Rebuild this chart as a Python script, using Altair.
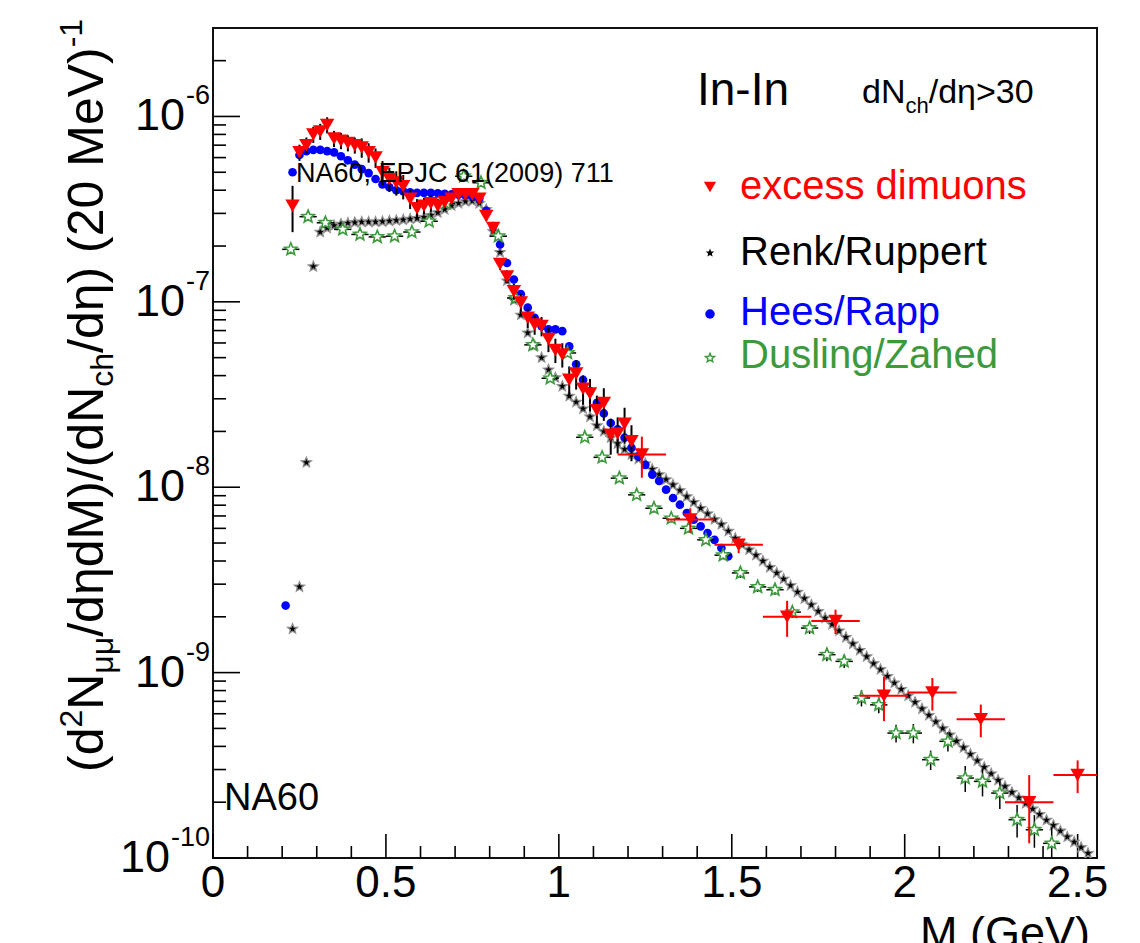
import altair as alt
import pandas as pd

# ---------------- data ----------------
excess_M = [0.23, 0.25, 0.27, 0.29, 0.31, 0.33, 0.35, 0.37, 0.39, 0.41,
            0.43, 0.45, 0.47, 0.49, 0.51, 0.53, 0.55, 0.57, 0.59, 0.61,
            0.63, 0.65, 0.67, 0.69, 0.71, 0.73, 0.75, 0.77, 0.79, 0.81,
            0.83, 0.85, 0.87, 0.89, 0.91, 0.93, 0.95, 0.97, 0.99, 1.01,
            1.03, 1.05, 1.07, 1.09, 1.11, 1.13, 1.15, 1.17, 1.19, 1.21]
excess_y = [3.3e-7, 6.4e-7, 7.0e-7, 8.0e-7, 8.3e-7, 9.0e-7, 7.6e-7, 7.4e-7, 7.2e-7, 7.0e-7,
            6.8e-7, 6.4e-7, 6.0e-7, 5.0e-7, 4.6e-7, 4.4e-7, 4.2e-7, 3.6e-7, 3.2e-7, 3.3e-7,
            3.4e-7, 3.3e-7, 3.45e-7, 3.6e-7, 3.8e-7, 3.8e-7, 3.8e-7, 3.6e-7, 2.9e-7, 2.5e-7,
            1.6e-7, 1.37e-7, 1.14e-7, 9.9e-8, 8.2e-8, 7.55e-8, 7.4e-8, 6.3e-8, 5.5e-8, 5.2e-8,
            3.8e-8, 4.1e-8, 3.4e-8, 3.2e-8, 2.6e-8, 2.85e-8, 1.92e-8, 1.95e-8, 2.2e-8, 1.77e-8]
excess_rel_err = [0.28, 0.10, 0.10, 0.10, 0.10, 0.10, 0.10, 0.10, 0.10, 0.10,
                  0.12, 0.12, 0.12, 0.15, 0.15, 0.15, 0.15, 0.12, 0.12, 0.10,
                  0.10, 0.09, 0.08, 0.07, 0.06, 0.06, 0.06, 0.06, 0.06, 0.06,
                  0.07, 0.08, 0.10, 0.12, 0.12, 0.12, 0.12, 0.15, 0.15, 0.15,
                  0.18, 0.18, 0.18, 0.20, 0.20, 0.20, 0.22, 0.22, 0.22, 0.22]

excess_wide_M = [1.24, 1.38, 1.52, 1.66, 1.80, 1.94, 2.08, 2.22, 2.36, 2.50]
excess_wide_y = [1.5e-8, 6.7e-9, 4.9e-9, 2.0e-9, 1.9e-9, 7.5e-10, 7.8e-10, 5.6e-10, 2.0e-10, 2.8e-10]
excess_wide_rel_err = [0.25, 0.15, 0.10, 0.22, 0.15, 0.27, 0.20, 0.20, 0.40, 0.20]
excess_wide_half_bin = [0.07, 0.07, 0.07, 0.07, 0.07, 0.07, 0.07, 0.07, 0.07, 0.07]

renk_M = [0.23, 0.25, 0.27, 0.29, 0.31, 0.33, 0.35, 0.37, 0.39, 0.41,
          0.43, 0.45, 0.47, 0.49, 0.51, 0.53, 0.55, 0.57, 0.59, 0.61,
          0.63, 0.65, 0.67, 0.69, 0.71, 0.73, 0.75, 0.77, 0.79, 0.81,
          0.83, 0.85, 0.87, 0.89, 0.91, 0.93, 0.95, 0.97, 0.99, 1.01,
          1.03, 1.05, 1.07, 1.09, 1.11, 1.13, 1.15, 1.17, 1.19, 1.21,
          1.23, 1.25, 1.27, 1.29, 1.31, 1.33, 1.35, 1.37, 1.39, 1.41,
          1.43, 1.45, 1.47, 1.49, 1.51, 1.53, 1.55, 1.57, 1.59, 1.61,
          1.63, 1.65, 1.67, 1.69, 1.71, 1.73, 1.75, 1.77, 1.79, 1.81,
          1.83, 1.85, 1.87, 1.89, 1.91, 1.93, 1.95, 1.97, 1.99, 2.01,
          2.03, 2.05, 2.07, 2.09, 2.11, 2.13, 2.15, 2.17, 2.19, 2.21,
          2.23, 2.25, 2.27, 2.29, 2.31, 2.33, 2.35, 2.37, 2.39, 2.41,
          2.43, 2.45, 2.47, 2.49, 2.51, 2.53]
renk_y = [1.72e-9, 2.9e-9, 1.36e-8, 1.55e-7, 2.38e-7, 2.5e-7, 2.58e-7, 2.63e-7, 2.66e-7, 2.68e-7,
          2.7e-7, 2.7e-7, 2.7e-7, 2.71e-7, 2.73e-7, 2.75e-7, 2.77e-7, 2.8e-7, 2.82e-7, 2.86e-7,
          2.93e-7, 3.03e-7, 3.15e-7, 3.3e-7, 3.4e-7, 3.48e-7, 3.5e-7, 3.4e-7, 3.15e-7, 2.4e-7,
          1.85e-7, 1.3e-7, 1.02e-7, 8.5e-8, 6.8e-8, 5.8e-8, 5.0e-8, 4.3e-8, 3.9e-8, 3.5e-8,
          3.1e-8, 2.88e-8, 2.65e-8, 2.4e-8, 2.15e-8, 2.0e-8, 1.85e-8, 1.72e-8, 1.6e-8, 1.5e-8,
          1.42e-8, 1.34e-8, 1.25e-8, 1.17e-8, 1.1e-8, 1.03e-8, 9.6e-9, 8.9e-9, 8.3e-9, 7.7e-9,
          7.2e-9, 6.7e-9, 6.3e-9, 5.8e-9, 5.3e-9, 4.9e-9, 4.6e-9, 4.3e-9, 4.0e-9, 3.7e-9,
          3.45e-9, 3.2e-9, 2.95e-9, 2.72e-9, 2.51e-9, 2.32e-9, 2.14e-9, 1.97e-9, 1.82e-9, 1.68e-9,
          1.55e-9, 1.43e-9, 1.32e-9, 1.22e-9, 1.12e-9, 1.04e-9, 9.55e-10, 8.8e-10, 8.13e-10, 7.5e-10,
          6.92e-10, 6.38e-10, 5.89e-10, 5.43e-10, 5.0e-10, 4.62e-10, 4.27e-10, 3.94e-10, 3.63e-10, 3.35e-10,
          3.09e-10, 2.85e-10, 2.63e-10, 2.43e-10, 2.26e-10, 2.11e-10, 1.97e-10, 1.84e-10, 1.72e-10, 1.6e-10,
          1.5e-10, 1.4e-10, 1.3e-10, 1.22e-10, 1.14e-10, 1.06e-10]

rapp_M = [0.21, 0.23, 0.25, 0.27, 0.29, 0.31, 0.33, 0.35, 0.37, 0.39,
          0.41, 0.43, 0.45, 0.47, 0.49, 0.51, 0.53, 0.55, 0.57, 0.59,
          0.61, 0.63, 0.65, 0.67, 0.69, 0.71, 0.73, 0.75, 0.77, 0.79,
          0.81, 0.83, 0.85, 0.87, 0.89, 0.91, 0.93, 0.95, 0.97, 0.99,
          1.01, 1.03, 1.05, 1.07, 1.09, 1.11, 1.13, 1.15, 1.17, 1.19,
          1.21, 1.23, 1.25, 1.27, 1.29, 1.31, 1.33, 1.35, 1.37, 1.39,
          1.41, 1.43, 1.45, 1.47, 1.49]
rapp_y = [2.3e-9, 5.0e-7, 6.2e-7, 6.5e-7, 6.6e-7, 6.6e-7, 6.5e-7, 6.4e-7, 6.1e-7, 5.8e-7,
          5.5e-7, 5.2e-7, 4.95e-7, 4.6e-7, 4.3e-7, 4.15e-7, 4.0e-7, 3.95e-7, 3.9e-7, 3.87e-7,
          3.87e-7, 3.87e-7, 3.85e-7, 3.83e-7, 3.8e-7, 3.78e-7, 3.75e-7, 3.7e-7, 3.6e-7, 3.1e-7,
          2.56e-7, 2.04e-7, 1.62e-7, 1.32e-7, 1.1e-7, 9.3e-8, 8.2e-8, 7.4e-8, 7.1e-8, 7.1e-8,
          6.95e-8, 5.75e-8, 4.6e-8, 3.8e-8, 3.3e-8, 2.85e-8, 2.5e-8, 2.22e-8, 2.05e-8, 1.85e-8,
          1.63e-8, 1.47e-8, 1.32e-8, 1.17e-8, 1.08e-8, 9.7e-9, 8.75e-9, 8.05e-9, 7.26e-9, 6.68e-9,
          6.15e-9, 5.66e-9, 5.2e-9, 4.7e-9, 4.24e-9]

dusling_M = [0.225, 0.275, 0.325, 0.375, 0.425, 0.475, 0.525, 0.575, 0.625, 0.675,
             0.725, 0.775, 0.825, 0.875, 0.925, 0.975, 1.025, 1.075, 1.125, 1.175,
             1.225, 1.275, 1.325, 1.375, 1.425, 1.475, 1.525, 1.575, 1.625, 1.675,
             1.725, 1.775, 1.825, 1.875, 1.925, 1.975, 2.025, 2.075, 2.125, 2.175,
             2.225, 2.275, 2.325, 2.375, 2.425]
dusling_y = [1.92e-7, 2.88e-7, 2.67e-7, 2.46e-7, 2.31e-7, 2.24e-7, 2.26e-7, 2.38e-7, 2.72e-7, 3.4e-7,
             4.76e-7, 4.39e-7, 2.26e-7, 1.05e-7, 5.86e-8, 3.87e-8, 5.3e-8, 1.86e-8, 1.45e-8, 1.12e-8,
             9.1e-9, 7.7e-9, 6.8e-9, 6.0e-9, 5.2e-9, 4.3e-9, 3.45e-9, 2.9e-9, 2.8e-9, 2.12e-9,
             1.74e-9, 1.25e-9, 1.15e-9, 7.3e-10, 6.7e-10, 4.72e-10, 4.72e-10, 3.39e-10, 4.26e-10, 2.7e-10,
             2.59e-10, 2.24e-10, 1.61e-10, 1.42e-10, 1.2e-10]
dusling_rel_err = [0.02, 0.02, 0.02, 0.02, 0.02, 0.02, 0.02, 0.02, 0.02, 0.02,
                   0.02, 0.02, 0.03, 0.03, 0.03, 0.04, 0.04, 0.04, 0.04, 0.04,
                   0.05, 0.05, 0.05, 0.05, 0.05, 0.05, 0.06, 0.06, 0.06, 0.07,
                   0.07, 0.08, 0.08, 0.10, 0.10, 0.11, 0.12, 0.12, 0.12, 0.16,
                   0.17, 0.18, 0.20, 0.20, 0.22]
dusling_half_bin = 0.025

x_major_ticks = [0, 0.5, 1.0, 1.5, 2.0, 2.5]
x_tick_labels = ["0", "0.5", "1", "1.5", "2", "2.5"]
x_minor_ticks = [0.1, 0.2, 0.3, 0.4, 0.6, 0.7, 0.8, 0.9, 1.1, 1.2, 1.3, 1.4,
                 1.6, 1.7, 1.8, 1.9, 2.1, 2.2, 2.3, 2.4]
y_decades = [-10, -9, -8, -7, -6]
y_minor_mult = [2, 3, 4, 5, 6, 7, 8, 9]

# ---------------- layout / style ----------------
FONT = "Liberation Sans"
PL, PT = 213, 28          # plot origin on the page
W, H = 884, 830           # plot area
X_DOMAIN = [0, 2.556]
Y_DOMAIN = [1e-10, 3.0e-6]
RED, BLUE, GREEN = "#ff0000", "#0000ff", "#3c9a3c"
STAR = ("M0,-1L0.26,-0.36L0.951,-0.309L0.42,0.137L0.588,0.809L0,0.44L-0.588,0.809"
        "L-0.42,0.137L-0.951,-0.309L-0.26,-0.36Z")

xs = alt.Scale(domain=X_DOMAIN, nice=False, zero=False)
ys = alt.Scale(type="log", domain=Y_DOMAIN, nice=False)

AW = {'(': .333, ')': .333, 'd': .556, 'N': .722, '/': .278, 'M': .833, 'c': .5, 'h': .556,
      ' ': .278, 'e': .556, 'V': .667, '-': .333, 'μ': .576, 'η': .556, '>': .584}


def tw(s, fs):
    return sum(AW.get(ch, .556) for ch in s) * fs


def text_at(s, px, py, size, color="black", align="left", baseline="alphabetic", angle=0, font=FONT):
    return alt.Chart(pd.DataFrame({"k": [0]})).mark_text(
        text=s, fontSize=size, font=font, color=color, align=align,
        baseline=baseline, angle=angle
    ).encode(x=alt.value(px - PL), y=alt.value(py - PT))


# ---------------- data frames ----------------
ex = pd.DataFrame({"M": excess_M, "y": excess_y})
ex["lo"] = [a * (1 - e) for a, e in zip(excess_y, excess_rel_err)]
ex["hi"] = [a * (1 + e) for a, e in zip(excess_y, excess_rel_err)]

exw = pd.DataFrame({"M": excess_wide_M, "y": excess_wide_y})
exw["lo"] = [a * (1 - e) for a, e in zip(excess_wide_y, excess_wide_rel_err)]
exw["hi"] = [a * (1 + e) for a, e in zip(excess_wide_y, excess_wide_rel_err)]
exw["x0"] = [m - h for m, h in zip(excess_wide_M, excess_wide_half_bin)]
exw["x1"] = [min(m + h, X_DOMAIN[1]) for m, h in zip(excess_wide_M, excess_wide_half_bin)]

rk = pd.DataFrame({"M": renk_M, "y": renk_y})
rp = pd.DataFrame({"M": rapp_M, "y": rapp_y})

dz = pd.DataFrame({"M": dusling_M, "y": dusling_y})
dz["lo"] = [a * (1 - e) for a, e in zip(dusling_y, dusling_rel_err)]
dz["hi"] = [a * (1 + e) for a, e in zip(dusling_y, dusling_rel_err)]
dz["x0"] = [m - dusling_half_bin for m in dusling_M]
dz["x1"] = [m + dusling_half_bin for m in dusling_M]

X = lambda f: alt.X(f, type="quantitative", scale=xs, axis=None)
Y = lambda f: alt.Y(f, type="quantitative", scale=ys, axis=None)

# ---------------- data layers ----------------
renk = alt.Chart(rk).mark_point(shape=STAR, filled=True, fill="black", stroke="#909090",
                                strokeWidth=1.3, size=110, opacity=1, clip=True).encode(
    x=X("M"), y=Y("y"))

rapp = alt.Chart(rp).mark_circle(color=BLUE, size=75, opacity=1, clip=True).encode(
    x=X("M"), y=Y("y"))

dz_v = alt.Chart(dz).mark_rule(color="black", strokeWidth=1.5, clip=True).encode(
    x=X("M"), y=Y("lo"), y2="hi")
dz_h = alt.Chart(dz).mark_rule(color="black", strokeWidth=1.5, clip=True).encode(
    x=X("x0"), x2="x1", y=Y("y"))
dusl = alt.Chart(dz).mark_point(shape=STAR, filled=True, fill="white", stroke=GREEN,
                                strokeWidth=1.6, size=170, opacity=1, clip=True).encode(
    x=X("M"), y=Y("y"))

ex_v = alt.Chart(ex).mark_rule(color="black", strokeWidth=2, clip=True).encode(
    x=X("M"), y=Y("lo"), y2="hi")
exw_v = alt.Chart(exw).mark_rule(color=RED, strokeWidth=2, clip=True).encode(
    x=X("M"), y=Y("lo"), y2="hi")
exw_h = alt.Chart(exw).mark_rule(color=RED, strokeWidth=2, clip=True).encode(
    x=X("x0"), x2="x1", y=Y("y"))

tri_df = pd.concat([ex[["M", "y"]], exw[["M", "y"]]], ignore_index=True)
excess = alt.Chart(tri_df).mark_point(shape="triangle-down", filled=True, color=RED,
                                       size=210, opacity=1, clip=True).encode(
    x=X("M"), y=Y("y"))

# ---------------- custom inward ticks and tick labels ----------------
xmaj = alt.Chart(pd.DataFrame({"v": x_major_ticks})).mark_rule(color="black", strokeWidth=1.6).encode(
    x=X("v"), y=alt.value(H), y2=alt.value(H - 24))
xmin = alt.Chart(pd.DataFrame({"v": x_minor_ticks})).mark_rule(color="black", strokeWidth=1.6).encode(
    x=X("v"), y=alt.value(H), y2=alt.value(H - 12))
xlab = alt.Chart(pd.DataFrame({"v": x_major_ticks, "t": x_tick_labels})).mark_text(
    font=FONT, fontSize=44, align="center", baseline="top", color="black").encode(
    x=X("v"), y=alt.value(H + 4), text="t:N")

ymaj_vals = [10.0 ** e for e in y_decades]
ymin_vals = [m * 10.0 ** e for e in y_decades for m in y_minor_mult if m * 10.0 ** e < Y_DOMAIN[1]]
ymaj = alt.Chart(pd.DataFrame({"v": ymaj_vals})).mark_rule(color="black", strokeWidth=1.6).encode(
    y=Y("v"), x=alt.value(0), x2=alt.value(27))
ymin = alt.Chart(pd.DataFrame({"v": ymin_vals})).mark_rule(color="black", strokeWidth=1.6).encode(
    y=Y("v"), x=alt.value(0), x2=alt.value(13))

BASE_FS, EXP_FS, GAP = 45, 27, 3
ylab = pd.DataFrame({"v": ymaj_vals, "e": [str(e) for e in y_decades]})
ylab["bx"] = [-(GAP + tw(s, EXP_FS) + 1) for s in ylab["e"]]
ylab["b"] = ["10"] * len(ylab)
ybase = alt.Chart(ylab).mark_text(font=FONT, fontSize=BASE_FS, align="right", baseline="middle",
                                  color="black").encode(
    x=alt.X("bx:Q", scale=None), y=Y("v"), text="b:N")
yexp = alt.Chart(ylab).mark_text(font=FONT, fontSize=EXP_FS, align="right", baseline="middle",
                                 color="black", dy=-20).encode(
    x=alt.value(-GAP), y=Y("v"), text="e:N")

# ---------------- y title with sub/superscripts (rotated) ----------------
TF, TS = 50, 32
title_pieces = [("(d", 0), ("2", 1), ("N", 0), ("μμ", -1), ("/dηdM)/(dN", 0), ("ch", -1),
                ("/dη) (20 MeV)", 0), ("-1", 1)]
title_layers = []
cur_y = 772
base_x = 103
for s, kind in title_pieces:
    fs = TF if kind == 0 else TS
    bx = base_x - (0.42 * TF if kind == 1 else (-0.2 * TF if kind == -1 else 0))
    title_layers.append(text_at(s, bx, cur_y, fs, angle=270))
    cur_y -= tw(s, fs)

# ---------------- annotations ----------------
DN_FS, CH_FS = 34, 22
ann = [
    text_at("In-In", 697, 105, 46),
    text_at("dN", 862, 103, DN_FS),
    text_at("ch", 862 + tw("dN", DN_FS), 113, CH_FS),
    text_at("/dη>30", 862 + tw("dN", DN_FS) + tw("ch", CH_FS), 103, DN_FS),
    text_at("excess dimuons", 740, 199, 40, color=RED),
    text_at("Renk/Ruppert", 740, 265, 40, color="black"),
    text_at("Hees/Rapp", 740, 325, 40, color=BLUE),
    text_at("Dusling/Zahed", 740, 368, 40, color=GREEN),
    text_at("NA60, EPJC 61(2009) 711", 296, 182, 27),
    text_at("NA60", 224, 810, 38),
    text_at("M (GeV)", 1090, 948, 45, align="right"),
]

leg_sym = [
    alt.Chart(pd.DataFrame({"k": [0]})).mark_point(shape="triangle-down", filled=True, color=RED,
                                                   size=150, opacity=1).encode(
        x=alt.value(710 - PL), y=alt.value(187 - PT)),
    alt.Chart(pd.DataFrame({"k": [0]})).mark_point(shape=STAR, filled=True, color="black",
                                                   size=80, opacity=1).encode(
        x=alt.value(710 - PL), y=alt.value(253 - PT)),
    alt.Chart(pd.DataFrame({"k": [0]})).mark_circle(color=BLUE, size=90, opacity=1).encode(
        x=alt.value(710 - PL), y=alt.value(314 - PT)),
    alt.Chart(pd.DataFrame({"k": [0]})).mark_point(shape=STAR, filled=False, color=GREEN,
                                                   strokeWidth=1.4, size=90, opacity=1).encode(
        x=alt.value(710 - PL), y=alt.value(358 - PT)),
]

chart = alt.layer(
    xmaj, xmin, ymaj, ymin, xlab,
    renk, rapp, dz_v, dz_h, dusl, ex_v, exw_v, exw_h, excess,
    ybase, yexp, *title_layers, *ann, *leg_sym
).properties(
    width=W, height=H,
    padding={"left": PL, "top": PT, "right": 1140 - PL - W, "bottom": 943 - PT - H},
    autosize=alt.AutoSizeParams(type="none"),
    background="white",
).configure_view(stroke="#111111", strokeWidth=2)

chart.save("out.html", embed_options={"renderer": "svg", "actions": False})
